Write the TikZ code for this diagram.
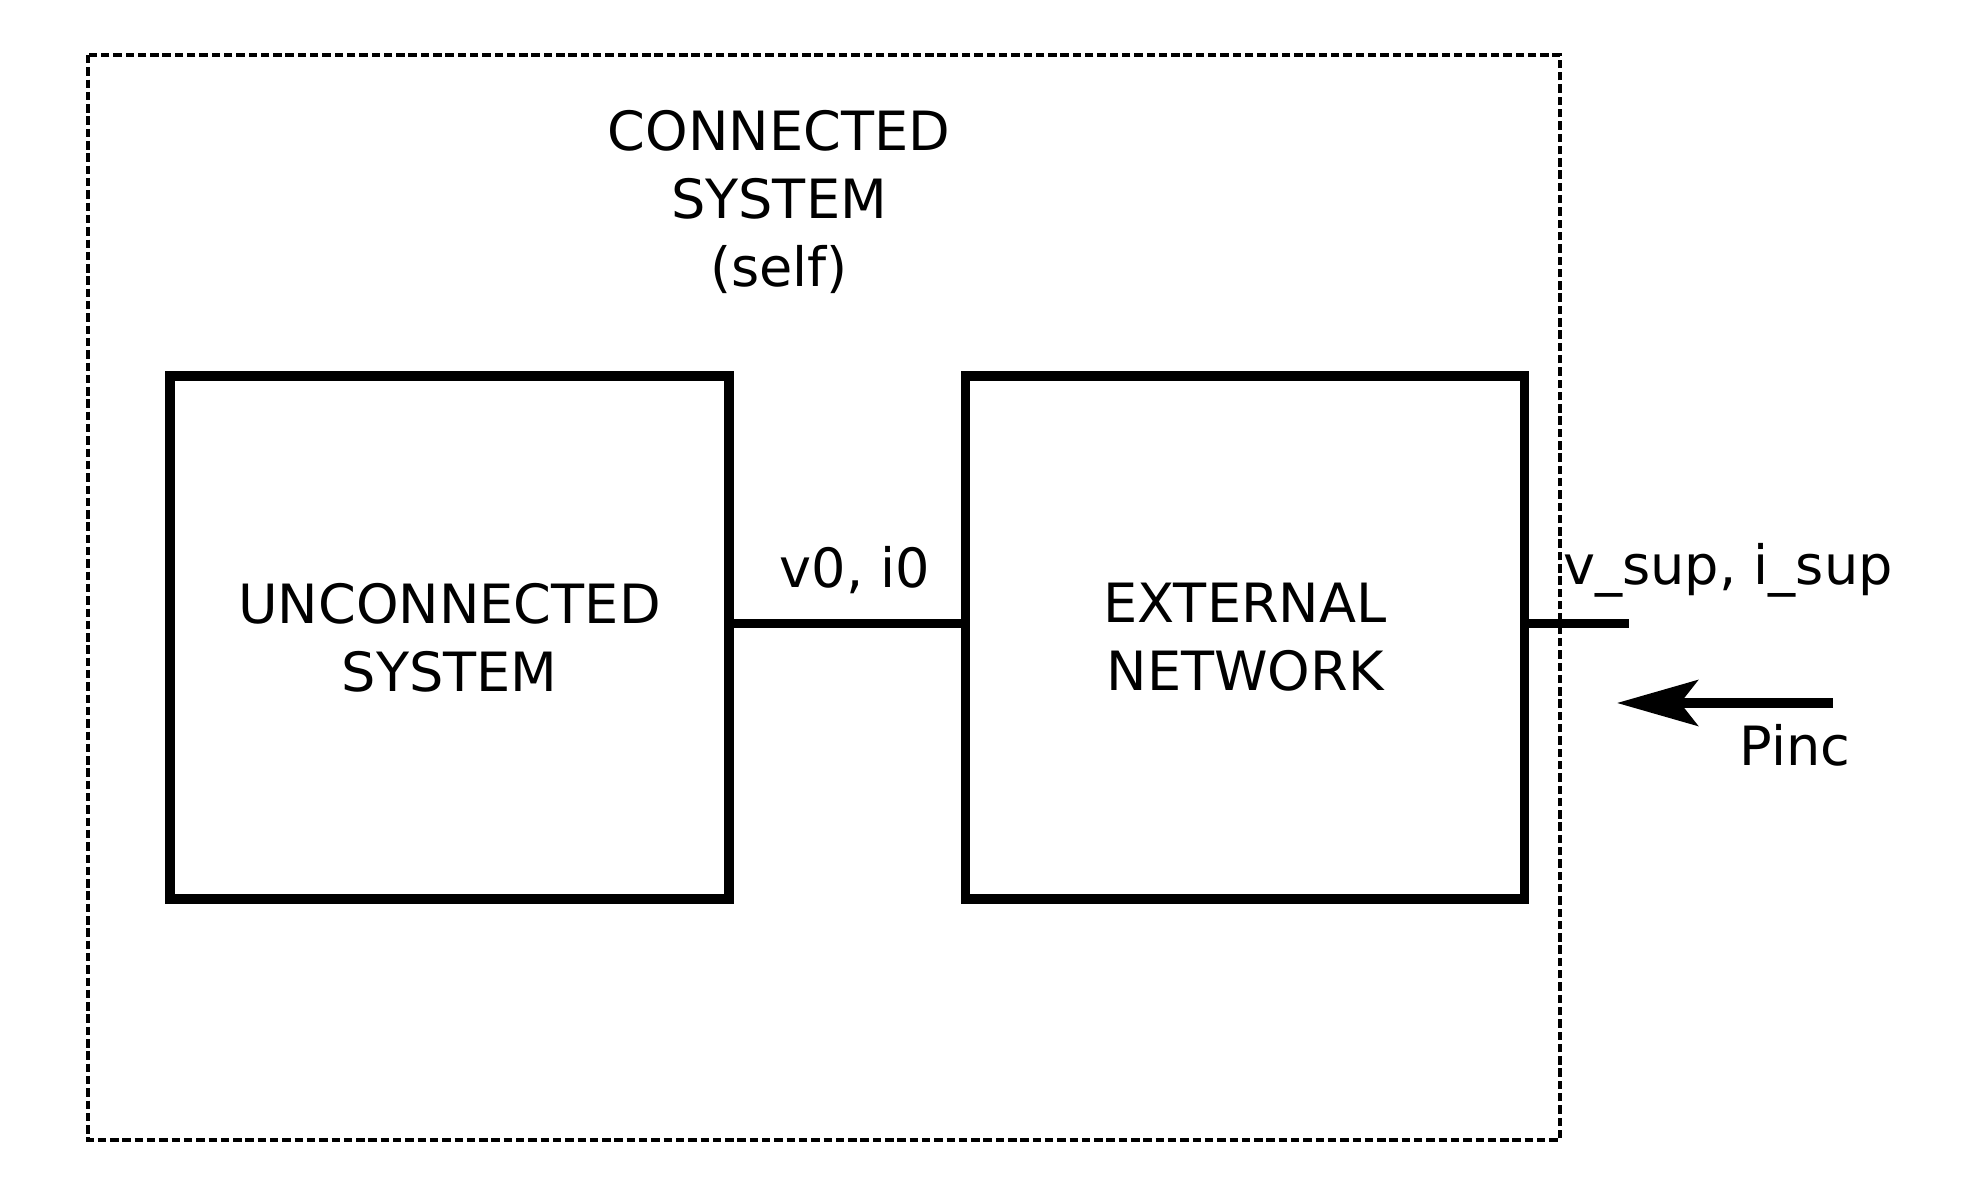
\documentclass[tikz,border=0pt]{standalone}
\usepackage{fontspec}
\setmainfont{DejaVu Sans}
\usetikzlibrary{arrows.meta}
\tikzset{
  block/.style={draw, line width=2.6pt, minimum width=5.59cm, minimum height=5.23cm, align=center, inner sep=0pt},
  wire/.style={line width=2.6pt},
  lbl/.style={align=center, inner sep=0pt}
}
\begin{document}
\begin{tikzpicture}[font=\fontsize{15.4}{19.4}\selectfont]
\useasboundingbox (0,0) rectangle (19.71,-11.96);
\draw[line width=0.9pt, dash pattern=on 2.4pt off 1.1pt] (0.88,-0.55) rectangle (15.60,-11.40);
\node[lbl] (conn) at (7.79,-2.02) {CONNECTED\\SYSTEM\\(self)};
\node[block] (uncon) at (4.495,-6.375) {UNCONNECTED\\SYSTEM};
\node[block] (extnet) at (12.45,-6.375) {EXTERNAL\\NETWORK};
\coordinate (stub) at (16.29,-6.235);
\draw[wire] (uncon.east |- stub) -- (extnet.west |- stub);
\draw[wire] (extnet.east |- stub) -- (stub);
\node[lbl] (vi0) at (8.55,-5.70) {v0, i0};
\node[lbl] (visup) at (17.28,-5.70) {v\_sup, i\_sup};
% incident power
\coordinate (ptail) at (18.33,-7.03);
\coordinate (phead) at (16.17,-7.03);
\draw[wire, -{Stealth[length=23pt, width=13pt, inset=5pt]}] (ptail) -- (phead);
\node[lbl] (pinc) at (17.95,-7.45) {Pinc};
\end{tikzpicture}
\end{document}
